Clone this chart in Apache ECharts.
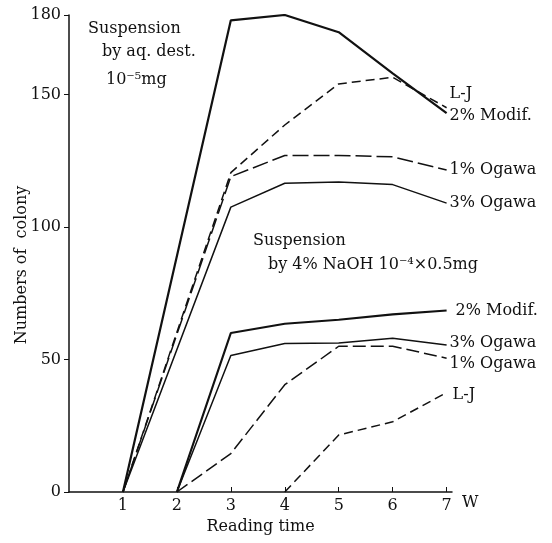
<!DOCTYPE html>
<html>
<head>
<meta charset="utf-8">
<script src="https://cdn.jsdelivr.net/npm/echarts@6/dist/echarts.min.js"></script>
<style>
  html, body { margin: 0; padding: 0; background: #fff; }
  #chart { width: 552px; height: 543px; }
</style>
</head>
<body>
<div id="chart"></div>
<script>
// reading time (weeks)
const weeks = [1, 2, 3, 4, 5, 6, 7];
const xTicks = [1, 2, 3, 4, 5, 6, 7];
const yTicks = [0, 50, 100, 150, 180];

// suspension by aq. dest. 10^-5 mg (start week 1)
const aqModif  = [0, null, 178, 180, 173.5, 158, 143];
const aqLJ     = [0, null, 120.5, 138.5, 154, 156.5, 145];
const aqOgawa1 = [0, null, 119, 127, 127, 126.5, 121.5];
const aqOgawa3 = [0, null, 107.5, 116.5, 117, 116, 109];

// suspension by 4% NaOH 10^-4 x 0.5 mg (start week 2)
const naModif  = [null, 0, 60, 63.5, 65, 67, 68.5];
const naOgawa3 = [null, 0, 51.5, 56, 56.2, 58, 55.5];
const naOgawa1 = [null, 0, 14.5, 40.5, 55, 55, 50.5];
const naLJ     = [null, null, null, 0, 21.5, 26.5, 37.5];

const font = 'DejaVu Serif, Liberation Serif, serif';
const ink = '#111';

const chart = echarts.init(document.getElementById('chart'));

const pairs = (vals) => weeks.map((w, i) => [w, vals[i]]).filter(p => p[1] !== null);

const mkLine = (name, vals, width, dash, offset) => ({
  name,
  type: 'line',
  data: pairs(vals),
  symbol: 'none',
  silent: true,
  lineStyle: { color: ink, width, type: dash },
  endLabel: {
    show: true,
    formatter: name,
    color: ink,
    fontFamily: font,
    fontSize: 16,
    distance: 3,
    offset
  }
});

const note = (text, x, y, extra) => ({
  type: 'text',
  x, y,
  ...extra,
  style: {
    text,
    fill: ink,
    font: '16px ' + font,
    textVerticalAlign: 'middle',
    textAlign: extra && extra.rotation ? 'center' : 'left'
  }
});

chart.setOption({
  backgroundColor: '#fff',
  animation: false,
  grid: { left: 69, right: 100, top: 15, bottom: 51 },
  xAxis: {
    type: 'value',
    min: 0,
    max: 7.1,
    name: 'Reading time',
    nameLocation: 'middle',
    nameGap: 24,
    nameTextStyle: { color: ink, fontFamily: font, fontSize: 16 },
    axisLine: { lineStyle: { color: ink, width: 1.5 } },
    axisTick: { inside: true, length: 5, customValues: xTicks, lineStyle: { color: ink } },
    axisLabel: { customValues: xTicks, margin: 6, color: ink, fontFamily: font, fontSize: 16 },
    splitLine: { show: false }
  },
  yAxis: {
    type: 'value',
    min: 0,
    max: 180,
    axisLine: { show: true, lineStyle: { color: ink, width: 1.5 } },
    axisTick: { show: true, length: 5, customValues: yTicks, lineStyle: { color: ink } },
    axisLabel: { customValues: yTicks, margin: 8, color: ink, fontFamily: font, fontSize: 16 },
    splitLine: { show: false }
  },
  series: [
    mkLine('L-J', aqLJ, 1.5, [9, 5], [0, -14]),
    mkLine('2% Modif.', aqModif, 2.2, 'solid', [0, 3]),
    mkLine('1% Ogawa', aqOgawa1, 1.5, [16, 5], [0, 0]),
    mkLine('3% Ogawa', aqOgawa3, 1.5, 'solid', [0, 0]),
    mkLine('2% Modif.', naModif, 2.2, 'solid', [6, 0]),
    mkLine('3% Ogawa', naOgawa3, 1.5, 'solid', [0, -2]),
    mkLine('1% Ogawa', naOgawa1, 1.5, [13, 5], [0, 6]),
    mkLine('L-J', naLJ, 1.5, [9, 5], [3, 2])
  ],
  graphic: [
    note('Numbers of  colony', 22, 265, { rotation: Math.PI / 2 }),
    note('Suspension', 88, 29),
    note('by aq. dest.', 102, 52),
    note('10\u207B\u2075mg', 106, 80),
    note('Suspension', 253, 241),
    note('by 4% NaOH 10\u207B\u2074\u00D70.5mg', 268, 265),
    note('W', 462, 503)
  ]
});
</script>
</body>
</html>
